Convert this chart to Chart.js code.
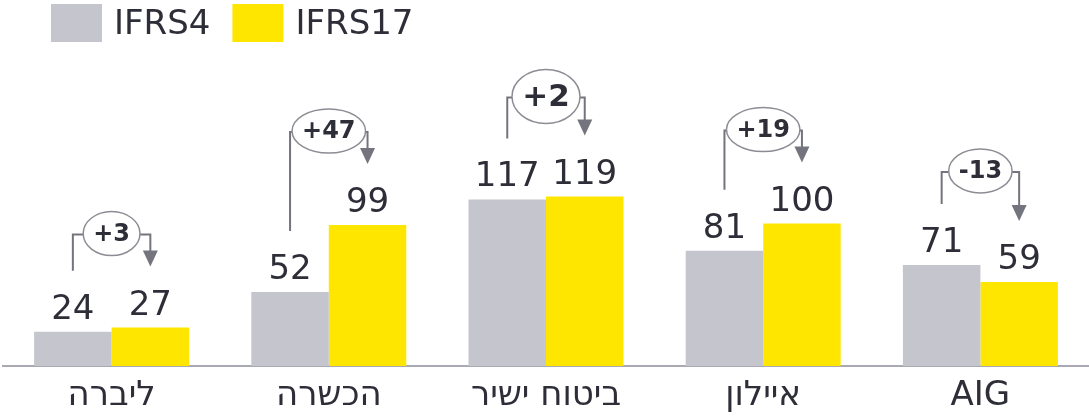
<!DOCTYPE html>
<html lang="he">
<head>
<meta charset="utf-8">
<title>IFRS4 / IFRS17</title>
<script src="https://cdn.jsdelivr.net/npm/chart.js@4.4.0/dist/chart.umd.min.js"></script>
<style>
	html, body { margin: 0; padding: 0; background: #fff; }
	#wrap { width: 1089px; height: 419px; position: relative; }
</style>
</head>
<body>
<div id="wrap"><canvas id="chart"></canvas></div>
<script>
// values
const categories = ['ליברה', 'הכשרה', 'ביטוח ישיר', 'איילון', 'AIG'];
const ifrs4 = [24, 52, 117, 81, 71];
const ifrs17 = [27, 99, 119, 100, 59];
const changeLabels = ['+3', '+47', '+2', '+19', '-13'];
const highlighted = [false, false, true, false, false];

const GRAY = '#c5c5cd';
const YELLOW = '#ffe600';
const TEXT = '#2e2e38';
const LINE = '#74747e';
const FONT = '"DejaVu Sans", sans-serif';

// legend drawn by hand so it can sit where the reference has it
const legendPlugin = {
	id: 'topLegend',
	afterDraw(chart) {
		const ctx = chart.ctx;
		const items = [
			{ text: 'IFRS4', color: GRAY },
			{ text: 'IFRS17', color: YELLOW }
		];
		ctx.save();
		ctx.font = '34px ' + FONT;
		ctx.textBaseline = 'middle';
		ctx.textAlign = 'left';
		let x = 51;
		for (const it of items) {
			ctx.fillStyle = it.color;
			ctx.fillRect(x, 4, 51, 38);
			ctx.fillStyle = TEXT;
			ctx.fillText(it.text, x + 63, 25);
			x += 63 + ctx.measureText(it.text).width + 22;
		}
		ctx.restore();
	}
};

// value labels above bars + the change brackets
const annotatePlugin = {
	id: 'annotate',
	afterDatasetsDraw(chart) {
		const ctx = chart.ctx;
		const m4 = chart.getDatasetMeta(0).data;
		const m17 = chart.getDatasetMeta(1).data;
		ctx.save();

		// numbers over bars
		ctx.font = '34px ' + FONT;
		ctx.fillStyle = TEXT;
		ctx.textAlign = 'center';
		ctx.textBaseline = 'alphabetic';
		[m4, m17].forEach((bars, d) => {
			bars.forEach((b, i) => {
				const v = d === 0 ? ifrs4[i] : ifrs17[i];
				ctx.fillText(String(v), b.x, b.y - 13);
			});
		});

		for (let i = 0; i < categories.length; i++) {
			const g = m4[i], y = m17[i];
			const big = highlighted[i];
			const topMost = Math.min(g.y, y.y);
			const by = topMost - (big ? 99 : 93);
			const cx = (g.x + y.x) / 2;

			ctx.font = 'bold ' + (big ? 31 : 24) + 'px ' + FONT;
			const tw = ctx.measureText(changeLabels[i]).width;
			const rx = big ? 34 : tw / 2 + 10;
			const ry = big ? 27 : 22;

			ctx.strokeStyle = LINE;
			ctx.lineWidth = 2;
			ctx.beginPath();
			ctx.moveTo(g.x, g.y - 61);
			ctx.lineTo(g.x, by);
			ctx.lineTo(cx - rx, by);
			ctx.moveTo(cx + rx, by);
			ctx.lineTo(y.x, by);
			ctx.lineTo(y.x, y.y - 61 - 14);
			ctx.stroke();

			// arrow head
			const tip = y.y - 61;
			ctx.fillStyle = LINE;
			ctx.beginPath();
			ctx.moveTo(y.x - 7.5, tip - 16);
			ctx.lineTo(y.x + 7.5, tip - 16);
			ctx.lineTo(y.x, tip);
			ctx.closePath();
			ctx.fill();

			// ellipse with change
			ctx.beginPath();
			ctx.ellipse(cx, by - 1, rx, ry, 0, 0, Math.PI * 2);
			ctx.fillStyle = '#fff';
			ctx.fill();
			ctx.strokeStyle = '#8c8c94';
			ctx.lineWidth = 1.5;
			ctx.stroke();

			ctx.fillStyle = TEXT;
			ctx.textAlign = 'center';
			ctx.textBaseline = 'middle';
			ctx.fillText(changeLabels[i], cx, by);
		}
		ctx.restore();
	}
};

new Chart(document.getElementById('chart'), {
	type: 'bar',
	data: {
		labels: categories,
		datasets: [
			{ label: 'IFRS4', data: ifrs4, backgroundColor: GRAY },
			{ label: 'IFRS17', data: ifrs17, backgroundColor: YELLOW }
		]
	},
	options: {
		responsive: true,
		maintainAspectRatio: false,
		animation: false,
		events: [],
		layout: { padding: { top: 10, left: 3, right: 0, bottom: 0 } },
		datasets: { bar: { categoryPercentage: 0.7135, barPercentage: 1 } },
		plugins: { legend: { display: false }, tooltip: { enabled: false } },
		scales: {
			x: {
				grid: { display: false, drawTicks: false },
				border: { color: '#a9a9b3', width: 2 },
				ticks: {
					font: { family: FONT, size: 34 },
					color: TEXT,
					padding: 10,
					autoSkip: false,
					maxRotation: 0
				},
				afterFit(scale) { scale.height = 53; }
			},
			y: {
				display: false,
				min: 0,
				max: 250
			}
		}
	},
	plugins: [legendPlugin, annotatePlugin]
});
</script>
</body>
</html>
